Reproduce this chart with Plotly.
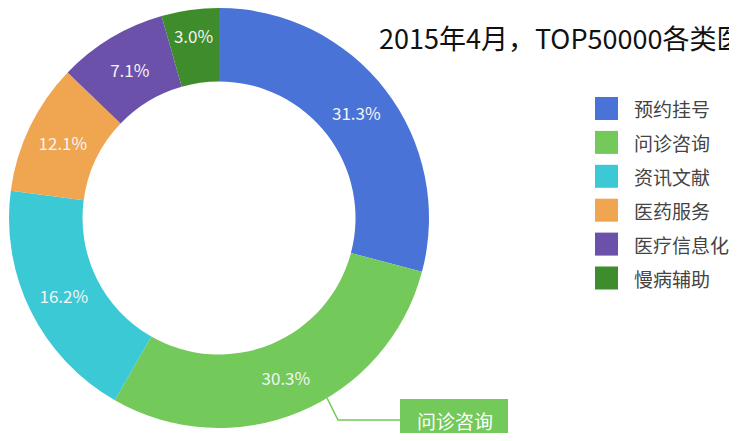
import plotly.graph_objects as go

# data
categories = ["预约挂号", "问诊咨询", "资讯文献", "医药服务", "医疗信息化", "慢病辅助"]
# printed percentages on the ring
pct_labels = ["31.3%", "30.3%", "16.2%", "12.1%", "7.1%", "3.0%"]
# slice sizes as actually drawn in the reference (measured from the arc boundaries)
arc_share = [29.1, 29.1, 18.8, 10.1, 8.4, 4.4]
colors = ["#4a73d8", "#73c95a", "#3ac9d5", "#f0a551", "#6b51aa", "#3e8c2b"]
title_text = "2015年4月，TOP50000各类医疗APP分布"
highlight = "问诊咨询"

# page body has an 8px margin, so the figure sits 8px in from the window corner
OFF = 8
W, H = 737 - OFF, 441 - 2 * OFF
FONT = "Noto Sans CJK SC, Noto Sans, sans-serif"


def px(x):
    # x in window pixels -> paper
    return (x - OFF) / W


def py(y):
    # y in window pixels (from top) -> paper
    return min(1, max(0, 1 - (y - OFF) / H))


fig = go.Figure()
fig.add_trace(go.Pie(
    labels=categories,
    values=arc_share,
    text=pct_labels,
    textinfo="text",
    marker=dict(colors=colors, line=dict(width=0)),
    hole=0.65,
    sort=False,
    direction="clockwise",
    rotation=0,
    textposition="inside",
    insidetextorientation="horizontal",
    textfont=dict(family=FONT, size=17, color="#f4f4f4"),
    domain=dict(x=[px(9), px(429)], y=[py(428), py(8)]),
    showlegend=False,
    hoverinfo="label+text",
))

shapes = []
annotations = []

# legend drawn by hand to get the large square swatches
for i, (name, col) in enumerate(zip(categories, colors)):
    yc = 108.5 + i * 33.9
    shapes.append(dict(type="rect", xref="paper", yref="paper",
                       x0=px(595), x1=px(618), y0=py(yc - 11.5), y1=py(yc + 11.5),
                       fillcolor=col, line=dict(width=0)))
    annotations.append(dict(x=px(632), y=py(yc), xref="paper", yref="paper",
                            text=name, showarrow=False, xanchor="left", yanchor="middle",
                            font=dict(family=FONT, size=19, color="#444444")))

# title, runs past the right edge like the original
annotations.append(dict(x=px(377), y=py(37), xref="paper", yref="paper",
                        text=title_text, showarrow=False, xanchor="left", yanchor="middle",
                        font=dict(family=FONT, size=27, color="#111111")))

# highlighted slice callout
hcol = colors[categories.index(highlight)]
shapes.append(dict(type="path", xref="paper", yref="paper",
                   path=f"M {px(327)},{py(398)} L {px(338)},{py(420)} L {px(400)},{py(420)}",
                   line=dict(color=hcol, width=1.5)))
shapes.append(dict(type="rect", xref="paper", yref="paper",
                   x0=px(400), x1=px(508), y0=py(441), y1=py(399),
                   fillcolor=hcol, line=dict(width=0)))
annotations.append(dict(x=px(455), y=py(420), xref="paper", yref="paper",
                        text=highlight, showarrow=False, xanchor="center", yanchor="middle",
                        font=dict(family=FONT, size=19, color="#ffffff")))

fig.update_layout(
    width=W, height=H,
    margin=dict(l=0, r=0, t=0, b=0),
    paper_bgcolor="white",
    plot_bgcolor="white",
    shapes=shapes,
    annotations=annotations,
    uniformtext=dict(minsize=17, mode="show"),
)

fig.write_html("out.html")
